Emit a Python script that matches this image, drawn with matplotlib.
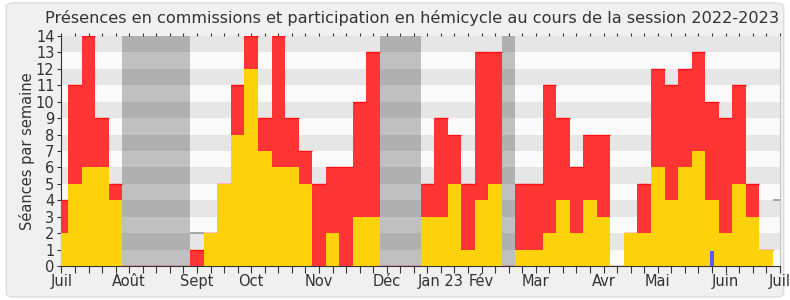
import matplotlib
matplotlib.use("Agg")
import matplotlib.pyplot as plt
from matplotlib.patches import FancyBboxPatch
import numpy as np

# weekly values, week 0 = first week of July 2022
hemicycle = [2, 5, 6, 6, 4, 0, 0, 0, 0, 0, 0, 2, 5, 8, 12, 7, 6, 6, 5, 0, 2, 0, 3, 3,
             0, 0, 0, 3, 3, 5, 1, 4, 5, 0, 1, 1, 2, 4, 2, 4, 3, 0, 2, 2, 6, 4, 6, 7,
             4, 2, 5, 3, 1]
commission = [4, 11, 14, 9, 5, 0, 0, 0, 0, 0, 1, 2, 5, 11, 14, 9, 14, 9, 7, 5, 6, 6, 10, 13,
              0, 0, 0, 5, 9, 8, 5, 13, 13, 0, 5, 5, 11, 9, 6, 8, 8, 0, 2, 5, 12, 11, 12, 13,
              10, 9, 11, 5, 1]
questions = {48: 0.9}
mediane_seg = [(9.5, 10.5, 2), (52.5, 53, 4)]
vacances = [(4.5, 9.5), (23.5, 26.5), (32.5, 33.5)]
mois_pos = [0, 5, 10, 14, 19, 24, 28, 31, 35, 40, 44, 49, 53]
mois_lbl = ["Juil", "Août", "Sept", "Oct", "Nov", "Déc", "Jan 23", "Fév", "Mar", "Avr", "Mai", "Juin", "Juil"]

n = len(hemicycle)
x = np.arange(n)
ymax = 14
nweeks = 53

fig = plt.figure(figsize=(7.9, 3.0), dpi=100)
fig.patch.set_facecolor("white")
bg = FancyBboxPatch((0.008, 0.01), 0.984, 0.98, boxstyle="round,pad=0,rounding_size=0.012",
                    transform=fig.transFigure, facecolor="#f0f0f0", edgecolor="#dcdcdc", lw=1,
                    zorder=-10)
fig.add_artist(bg)

ax = fig.add_axes([0.0778, 0.113, 0.9092, 0.767])
ax.set_facecolor("#fafafa")

# alternating bands
for k in range(ymax):
    if k % 2 == 1:
        ax.axhspan(k, k + 1, color="#e6e6e6", lw=0, zorder=0)

for a, b in vacances:
    ax.axvspan(a, b, color="black", alpha=0.23, lw=0, zorder=1)

for a, b, v in mediane_seg:
    ax.hlines(v, a, b, color="#a0a0a0", lw=1.3, zorder=2)

ax.bar(x, commission, width=1.0, color="#ff3535", lw=0, zorder=3)
ax.hlines(commission, x - 0.5, x + 0.5, color="#ff1010", lw=1, zorder=3.5)
ax.bar(x, hemicycle, width=1.0, color="#fdd20b", lw=0, zorder=4)
for w, v in questions.items():
    ax.bar(w, v, width=0.3, color="#5a5aff", lw=0, zorder=5)

ax.set_xlim(0, nweeks)
ax.set_ylim(0, ymax)
ax.set_yticks(range(ymax + 1))
ax.tick_params(axis="y", labelsize=10.5, colors="#333333", length=3, pad=2)

labels = [""] * (nweeks + 1)
for p, l in zip(mois_pos, mois_lbl):
    labels[p] = l
ax.set_xticks(range(nweeks + 1))
ax.set_xticklabels(labels)
ax.tick_params(axis="x", labelsize=10.5, colors="#333333", length=5, pad=1,
               top=True, direction="out")
for t in ax.xaxis.get_major_ticks():
    t.tick2line.set_markersize(2)

ax.spines["top"].set_visible(False)
ax.spines["right"].set_color("#c8c8c8")
ax.spines["left"].set_color("#333333")
ax.spines["bottom"].set_color("#333333")

ax.set_ylabel("Séances par semaine", fontsize=10.5, color="#333333", labelpad=1)
fig.text(0.521, 0.94, "Présences en commissions et participation en hémicycle au cours de la session 2022-2023",
         ha="center", va="center", fontsize=11.6, color="#333333")

fig.savefig("out.png", dpi=100)
